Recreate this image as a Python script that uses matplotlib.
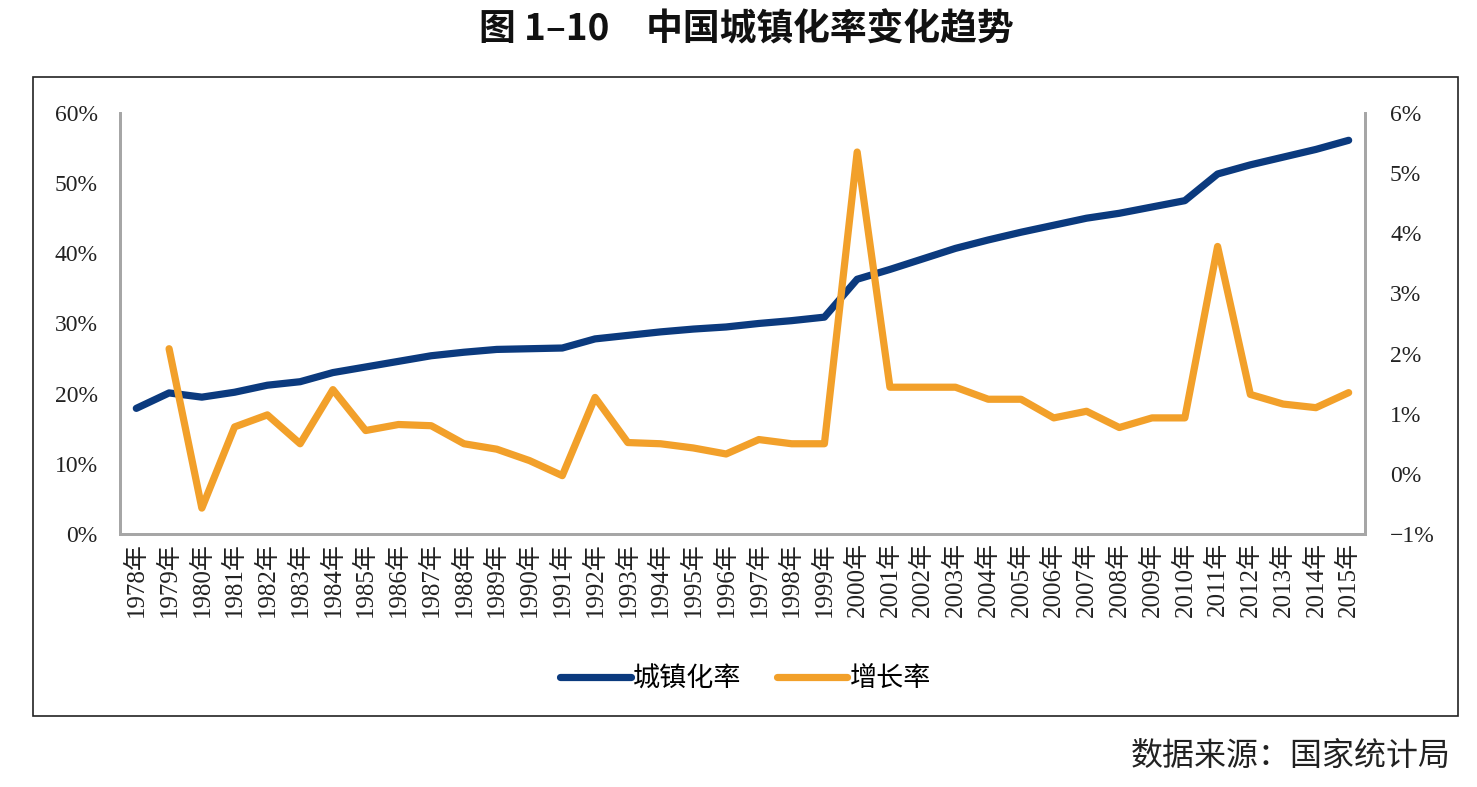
"""中国城镇化率变化趋势 (图 1-10) - urbanization rate and its yearly growth."""

import matplotlib
matplotlib.use("Agg")
import matplotlib.pyplot as plt
from matplotlib.patches import Rectangle
from matplotlib.ticker import FuncFormatter, MultipleLocator

years = list(range(1978, 2016))
year_labels = [f"{y}年" for y in years]

# 城镇化率 (%), left axis
urban_rate = [17.9, 20.1, 19.5, 20.2, 21.2, 21.7, 23.0, 23.8, 24.6, 25.4,
              25.9, 26.3, 26.4, 26.5, 27.8, 28.3, 28.8, 29.2, 29.5, 30.0,
              30.4, 30.9, 36.3, 37.7, 39.2, 40.7, 41.9, 43.0, 44.0, 45.0,
              45.7, 46.6, 47.5, 51.3, 52.6, 53.7, 54.8, 56.1]

# 增长率 (%), right axis; no value for the first year
growth_years = years[1:]
growth_rate = [2.08, -0.57, 0.78, 0.98, 0.50, 1.40, 0.72, 0.82, 0.80,
               0.50, 0.41, 0.22, -0.03, 1.27, 0.52, 0.50, 0.43, 0.33, 0.57,
               0.50, 0.50, 5.35, 1.44, 1.44, 1.44, 1.24, 1.24, 0.93, 1.04,
               0.77, 0.93, 0.93, 3.78, 1.32, 1.16, 1.10, 1.35]

NAVY = "#0B3A7E"
ORANGE = "#F2A02A"
GREY = "#A6A6A6"

SERIF = ["Liberation Serif", "Noto Sans CJK SC", "DejaVu Serif"]
CJK = ["Noto Sans CJK SC", "DejaVu Sans"]


def pct(v, _pos):
    s = f"{v:.0f}%"
    return s.replace("-", "\u2212")


fig = plt.figure(figsize=(14.77, 7.87), dpi=100)
ax = fig.add_axes([0.0812, 0.3215, 0.8430, 0.5350])
ax2 = ax.twinx()

x_urban = list(range(len(years)))
x_growth = x_urban[1:]

ax.plot(x_urban, urban_rate, color=NAVY, lw=5.2, solid_capstyle="round",
        solid_joinstyle="round", label="城镇化率", zorder=3)
ax2.plot(x_growth, growth_rate, color=ORANGE, lw=5.2, solid_capstyle="round",
         solid_joinstyle="round", label="增长率", zorder=2)

ax.set_xlim(-0.5, len(years) - 0.5)
ax.set_ylim(0, 60)
ax2.set_ylim(-1, 6)
ax.yaxis.set_major_locator(MultipleLocator(10))
ax2.yaxis.set_major_locator(MultipleLocator(1))
ax.yaxis.set_major_formatter(FuncFormatter(pct))
ax2.yaxis.set_major_formatter(FuncFormatter(pct))

ax.set_xticks(x_urban)
ax.set_xticklabels(year_labels, rotation=90, family=SERIF, fontsize=18,
                   color="#222222")

for a in (ax, ax2):
    a.tick_params(length=0)
    a.spines["top"].set_visible(False)
    for side in ("left", "right", "bottom"):
        a.spines[side].set_color(GREY)
        a.spines[side].set_linewidth(2)
    for lab in a.get_yticklabels():
        lab.set_family(SERIF)
        lab.set_fontsize(17)
        lab.set_color("#222222")
ax.tick_params(axis="y", pad=16)
ax.tick_params(axis="x", pad=6)
ax2.tick_params(axis="y", pad=18)

# outer frame around plot and legend
fig.patches.append(Rectangle((0.0223, 0.0902), 0.9648, 0.8120,
                             transform=fig.transFigure, fill=False,
                             edgecolor="#222222", linewidth=1.2))

h1, l1 = ax.get_legend_handles_labels()
h2, l2 = ax2.get_legend_handles_labels()
fig.legend(h1 + h2, l1 + l2, loc="center", bbox_to_anchor=(0.505, 0.137),
           ncol=2, frameon=False, handlelength=2.6, columnspacing=1.3,
           handletextpad=0.1, prop={"family": CJK, "size": 19.5})

fig.text(0.505, 0.962, "图 1–10　中国城镇化率变化趋势", ha="center", va="center",
         family=CJK, fontsize=26.5, fontweight="bold", color="#111111")
fig.text(0.982, 0.040, "数据来源：国家统计局", ha="right", va="center",
         family=CJK, fontsize=23, color="#222222")

fig.savefig("out.png", dpi=100)
